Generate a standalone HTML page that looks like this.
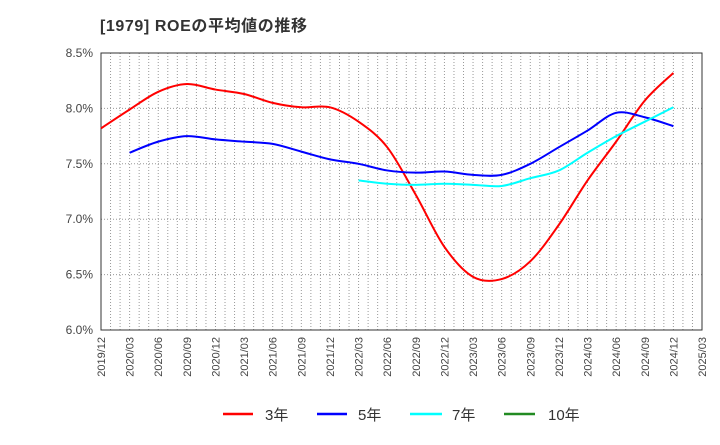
<!DOCTYPE html>
<html><head><meta charset="utf-8"><style>
body{margin:0;background:#fff;width:720px;height:440px;overflow:hidden}
svg{font-family:"Liberation Sans","Noto Sans CJK JP",sans-serif}
</style></head><body>
<svg id="chart" width="720" height="440" viewBox="0 0 720 440">
<text x="100" y="31" font-size="16" font-weight="bold" letter-spacing="0.6" fill="#333">[1979]  ROEの平均値の推移</text>
<g id="grid"></g><g id="axes"></g><g id="series"></g>
<g font-size="15" fill="#333">
<g><line x1="223" y1="414" x2="253" y2="414" stroke="#f00" stroke-width="2.5"/><text x="265" y="420">3年</text></g>
<g><line x1="317" y1="414" x2="347" y2="414" stroke="#00f" stroke-width="2.5"/><text x="358" y="420">5年</text></g>
<g><line x1="410" y1="414" x2="442" y2="414" stroke="#0ff" stroke-width="2.5"/><text x="452" y="420">7年</text></g>
<g><line x1="504" y1="414" x2="535" y2="414" stroke="#228b22" stroke-width="2.5"/><text x="548" y="420">10年</text></g>
</g>
</svg>
<script>
const categories=["2019/12","2020/03","2020/06","2020/09","2020/12","2021/03","2021/06","2021/09","2021/12","2022/03","2022/06","2022/09","2022/12","2023/03","2023/06","2023/09","2023/12","2024/03","2024/06","2024/09","2024/12","2025/03"];
const yTicks=[6.0,6.5,7.0,7.5,8.0,8.5];
const roe3=[7.82,7.99,8.15,8.22,8.17,8.13,8.05,8.01,8.01,7.88,7.65,7.22,6.75,6.48,6.46,6.62,6.95,7.35,7.70,8.07,8.32];
const roe5=[null,7.60,7.70,7.75,7.72,7.70,7.68,7.61,7.54,7.50,7.44,7.42,7.43,7.40,7.40,7.50,7.65,7.80,7.96,7.92,7.84];
const roe7=[null,null,null,null,null,null,null,null,null,7.35,7.32,7.31,7.32,7.31,7.30,7.37,7.44,7.60,7.75,7.88,8.01];
const roe10=[];
const L=101,R=702,T=53,B=330,NS="http://www.w3.org/2000/svg";
const x=i=>L+(R-L)*i/(categories.length-1);
const y=v=>B-(v-6.0)/(8.5-6.0)*(B-T);
function mk(tag,attrs,parent){const e=document.createElementNS(NS,tag);for(const k in attrs)e.setAttribute(k,attrs[k]);parent.appendChild(e);return e;}
const grid=document.getElementById('grid'),axes=document.getElementById('axes'),ser=document.getElementById('series');
for(let m=1;m<(categories.length-1)*3;m++){const xx=L+(R-L)*m/((categories.length-1)*3);
const g=mk('line',{x1:xx,x2:xx,y1:T,y2:B,stroke:'#999','stroke-dasharray':'1,2','stroke-width':1},grid);

}
yTicks.forEach(t=>{const g=mk('line',{x1:L,x2:R,y1:y(t),y2:y(t),stroke:'#999','stroke-dasharray':'1,2'},grid);


const tx=mk('text',{x:L-8,y:y(t)+4,'text-anchor':'end','font-size':12,fill:'#444'},axes);tx.textContent=t.toFixed(1)+'%';

});
const fr=mk('rect',{x:L,y:T,width:R-L,height:B-T,fill:'none',stroke:'#333','stroke-width':1},axes);


categories.forEach((c,i)=>{const tx=mk('text',{transform:`translate(${x(i)+4},337) rotate(-90)`,'text-anchor':'end','font-size':11,fill:'#444'},axes);tx.textContent=c;

});
function path(data,color,name){const pts=[];data.forEach((v,i)=>{if(v!=null)pts.push([x(i),y(v)])});if(pts.length<2)return;
let d=`M${pts[0][0]},${pts[0][1]}`;for(let i=0;i<pts.length-1;i++){const p0=pts[i-1]||pts[i],p1=pts[i],p2=pts[i+1],p3=pts[i+2]||p2;
d+=` C${p1[0]+(p2[0]-p0[0])/6},${p1[1]+(p2[1]-p0[1])/6} ${p2[0]-(p3[0]-p1[0])/6},${p2[1]-(p3[1]-p1[1])/6} ${p2[0]},${p2[1]}`;}
const p=mk('path',{d,fill:'none',stroke:color,'stroke-width':2},ser);

}
path(roe3,'#f00','line-3y');path(roe5,'#00f','line-5y');path(roe7,'#0ff','line-7y');path(roe10,'#228b22','line-10y');
</script>
</body></html>
